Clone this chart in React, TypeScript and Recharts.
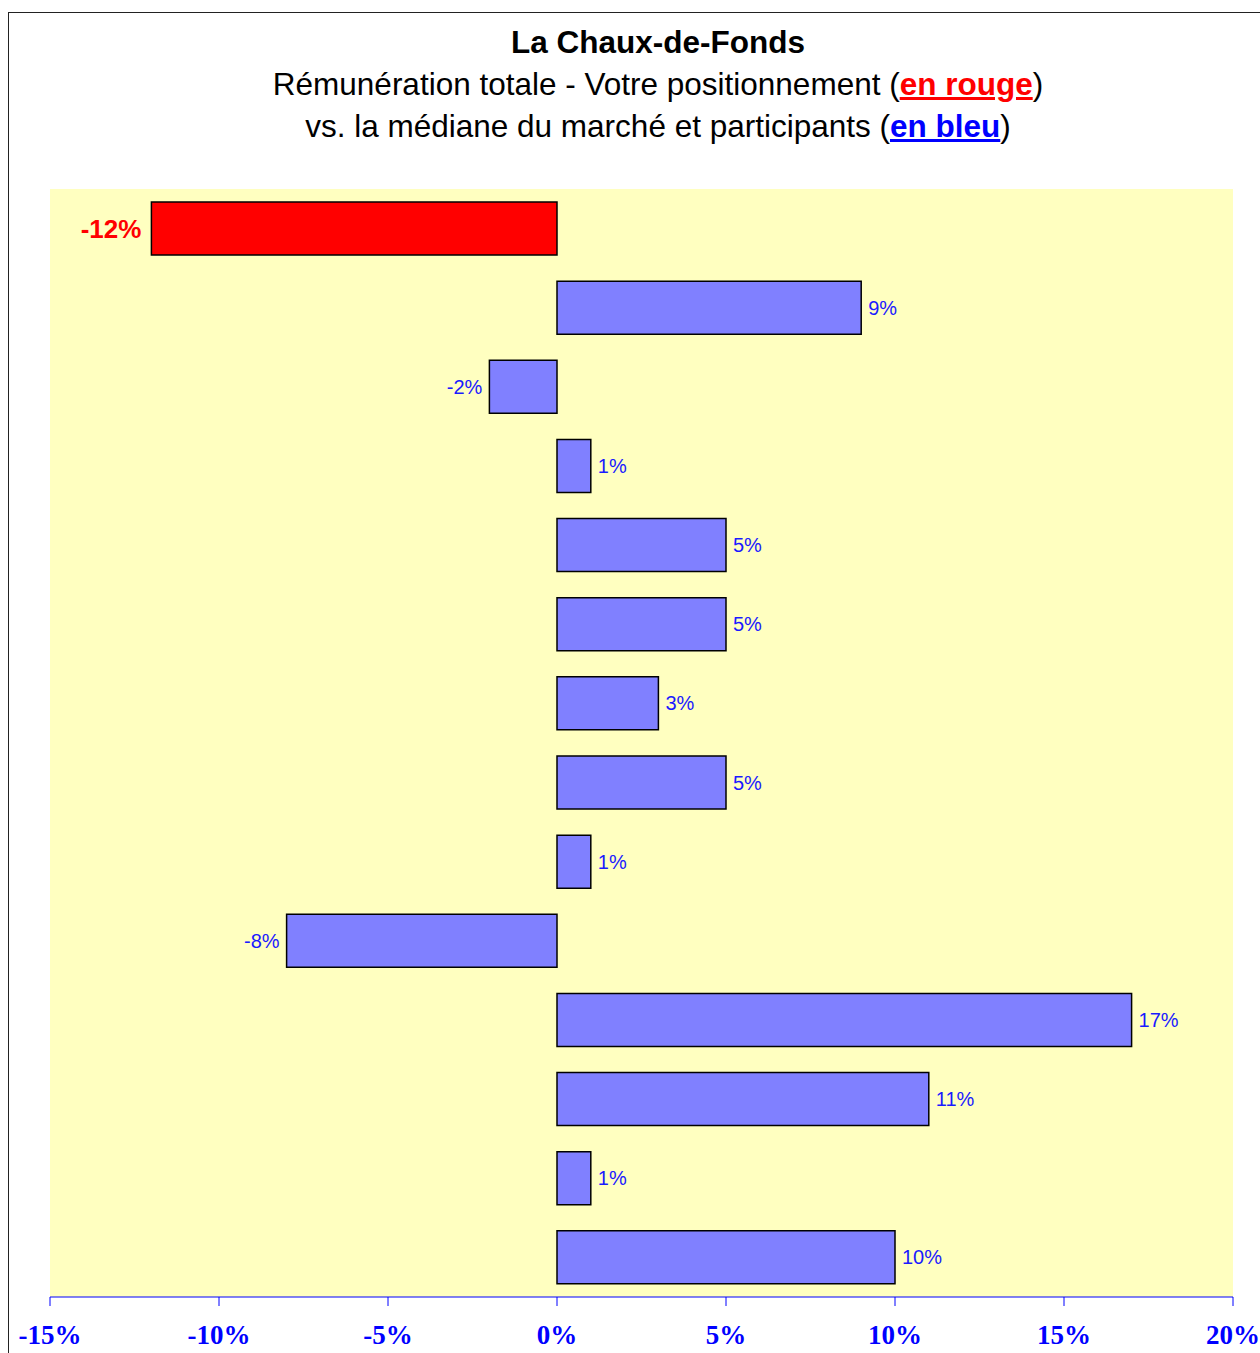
import React from 'react';
import { BarChart, Bar, XAxis, YAxis, Cell, LabelList, CartesianGrid } from 'recharts';

const categories = ['Vous', 'P1', 'P2', 'P3', 'P4', 'P5', 'P6', 'P7', 'P8', 'P9', 'P10', 'P11', 'P12', 'P13'];
const gaps = [-12, 9, -2, 1, 5, 5, 3, 5, 1, -8, 17, 11, 1, 10];
const highlighted = ['Vous'];
const xTicks = [-15, -10, -5, 0, 5, 10, 15, 20];

const data = categories.map((name, i) => ({ name, value: gaps[i], own: highlighted.includes(name) }));

const BLUE_TEXT = '#0000ff';

function AxisTick({ x, y, payload }: any) {
  return (
    <text
      x={x}
      y={y + 36}
      textAnchor="middle"
      fontFamily="'Liberation Serif', 'Times New Roman', serif"
      fontWeight="bold"
      fontSize={27}
      fill={BLUE_TEXT}
    >
      {`${payload.value}%`}
    </text>
  );
}

function BarValue({ x, y, width, height, value, index }: any) {
  const own = data[index]?.own;
  const left = Math.min(x, x + width);
  const right = Math.max(x, x + width);
  const neg = value < 0;
  return (
    <text
      x={neg ? left - (own ? 10 : 7) : right + 7}
      y={y + height / 2}
      textAnchor={neg ? 'end' : 'start'}
      dominantBaseline="central"
      fontFamily="'Liberation Sans', Arial, sans-serif"
      fontWeight={own ? 'bold' : 'normal'}
      fontSize={own ? 26 : 20}
      fill={own ? '#ff0000' : '#1a1aff'}
    >
      {`${value}%`}
    </text>
  );
}

export default function App() {
  return (
    <div style={{ position: 'absolute', left: 0, top: 0, width: 1260, height: 1353, overflow: 'hidden', background: '#fff' }}>
      <div
        style={{
          position: 'absolute',
          left: 8,
          top: 12,
          width: 1300,
          height: 1400,
          border: '1.5px solid #222',
          boxSizing: 'border-box',
        }}
      />
      <div
        style={{
          position: 'absolute',
          left: 258,
          top: 21,
          width: 800,
          textAlign: 'center',
          fontFamily: "'Liberation Sans', Arial, sans-serif",
          fontSize: 31.5,
          lineHeight: '42px',
          color: '#000',
          whiteSpace: 'nowrap',
        }}
      >
        <div style={{ fontWeight: 'bold' }}>La Chaux-de-Fonds</div>
        <div>
          Rémunération totale - Votre positionnement (
          <span style={{ color: '#ff0000', fontWeight: 'bold', textDecoration: 'underline', textDecorationThickness: 3 }}>en rouge</span>)
        </div>
        <div>
          vs. la médiane du marché et participants (
          <span style={{ color: '#0000ff', fontWeight: 'bold', textDecoration: 'underline', textDecorationThickness: 3 }}>en bleu</span>)
        </div>
      </div>
      <div style={{ position: 'absolute', left: 0, top: 0 }}>
        <BarChart
          width={1260}
          height={1353}
          data={data}
          layout="vertical"
          margin={{ top: 189, right: 27, bottom: 0, left: 50 }}
          barSize={53}
        >
          <CartesianGrid fill="#ffffc0" stroke="none" horizontal={false} vertical={false} />
          <XAxis
            type="number"
            domain={[-15, 20]}
            ticks={xTicks}
            allowDataOverflow
            height={56}
            axisLine={{ stroke: '#0000ff', strokeWidth: 1 }}
            tickLine={{ stroke: '#0000ff', strokeWidth: 1 }}
            tickSize={9}
            tick={<AxisTick />}
            interval={0}
          />
          <YAxis type="category" dataKey="name" hide />
          <Bar dataKey="value" stroke="#000" strokeWidth={1.5} isAnimationActive={false}>
            {data.map((d) => (
              <Cell key={d.name} fill={d.own ? '#ff0000' : '#8080ff'} />
            ))}
            <LabelList dataKey="value" content={<BarValue />} />
          </Bar>
        </BarChart>
      </div>
    </div>
  );
}
